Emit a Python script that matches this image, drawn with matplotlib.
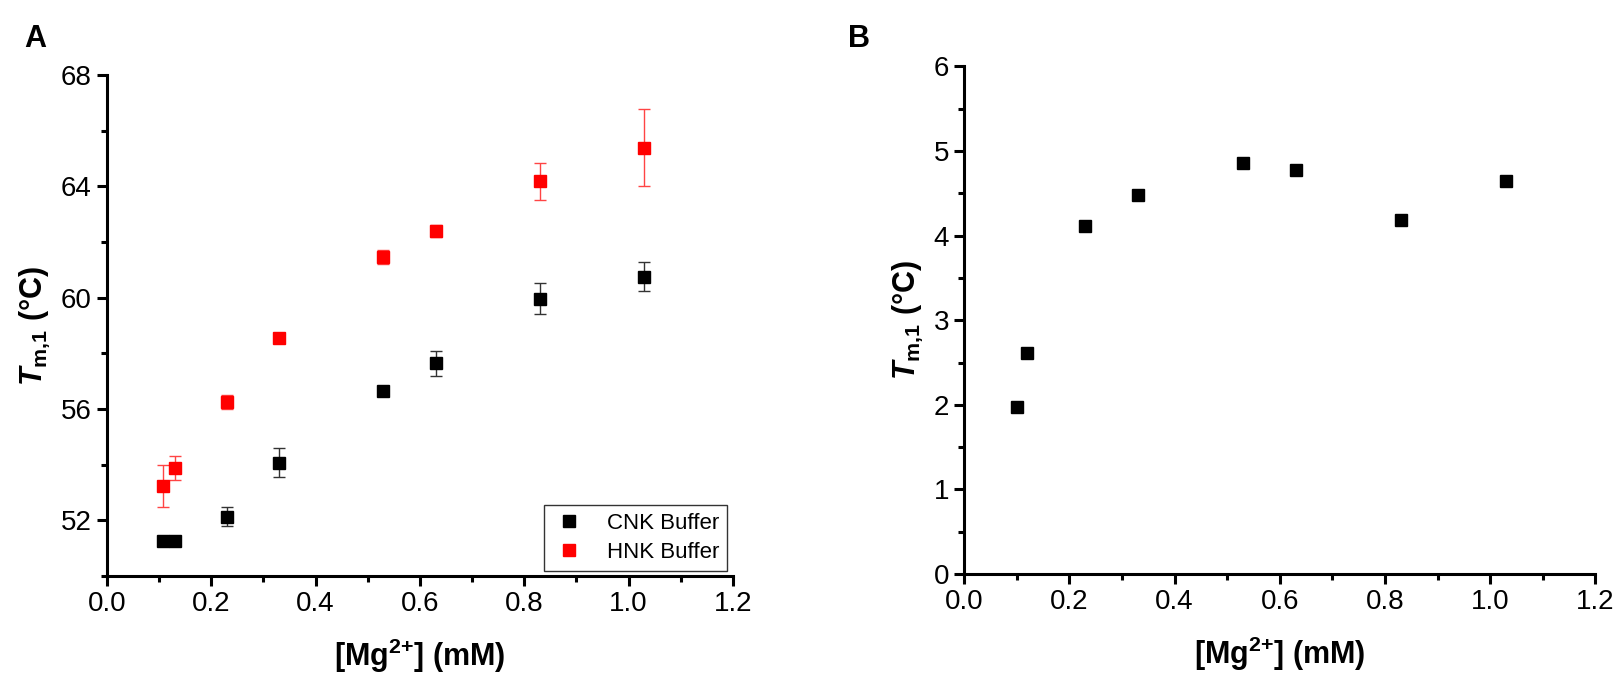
import matplotlib
matplotlib.use('Agg')
import matplotlib.pyplot as plt
from matplotlib.ticker import MultipleLocator

plt.rcParams['font.family'] = ['Liberation Sans', 'DejaVu Sans']
plt.rcParams['mathtext.fontset'] = 'custom'
plt.rcParams['mathtext.rm'] = 'Liberation Sans'
plt.rcParams['mathtext.bf'] = 'Liberation Sans:bold'
plt.rcParams['mathtext.it'] = 'Liberation Sans:italic'
plt.rcParams['mathtext.bfit'] = 'Liberation Sans:bold:italic'

# Panel A data
mg_a = [0.107, 0.13, 0.23, 0.33, 0.53, 0.63, 0.83, 1.03]
cnk_tm = [51.26, 51.27, 52.14, 54.08, 56.64, 57.64, 59.97, 60.76]
cnk_err = [0.0, 0.0, 0.35, 0.51, 0.0, 0.44, 0.55, 0.53]
hnk_tm = [53.24, 53.88, 56.26, 58.56, 61.47, 62.40, 64.19, 65.40]
hnk_err = [0.75, 0.42, 0.26, 0.08, 0.25, 0.22, 0.66, 1.40]

# Panel B data
mg_b = [0.10, 0.12, 0.23, 0.33, 0.53, 0.63, 0.83, 1.03]
delta_tm = [1.98, 2.61, 4.11, 4.48, 4.86, 4.77, 4.18, 4.64]

ylabel = r'$\mathbfit{T}_{\mathbf{m{,}1}}$ (°C)'
xlabel = r'[Mg$^{\mathbf{2\!+}}\!\mathbf{]}$ (mM)'

fig = plt.figure(figsize=(16.18, 6.77), dpi=100)
ax1 = fig.add_axes([0.066, 0.149, 0.387, 0.740])
ax2 = fig.add_axes([0.596, 0.152, 0.390, 0.750])


def style(ax):
    for s in ['top', 'right']:
        ax.spines[s].set_visible(False)
    for s in ['left', 'bottom']:
        ax.spines[s].set_linewidth(2.2)
    ax.tick_params(which='major', direction='out', length=7, width=2.2, labelsize=20, pad=4)
    ax.tick_params(which='minor', direction='out', length=4, width=2.2)
    ax.set_xlim(0, 1.2)
    ax.xaxis.set_major_locator(MultipleLocator(0.2))
    ax.xaxis.set_minor_locator(MultipleLocator(0.1))
    ax.xaxis.set_major_formatter(plt.FormatStrFormatter('%.1f'))
    ax.set_xlabel(xlabel, fontsize=22, fontweight='bold', labelpad=14)
    ax.set_ylabel(ylabel, fontsize=22, fontweight='bold', labelpad=6)


ax1.errorbar(mg_a, cnk_tm, yerr=cnk_err, fmt='s', color='black', ms=9,
             ecolor='#333333', elinewidth=1, capsize=4, capthick=1, label='CNK Buffer')
ax1.errorbar(mg_a, hnk_tm, yerr=hnk_err, fmt='s', color='red', ms=9,
             ecolor='#ff4444', elinewidth=1, capsize=4, capthick=1, label='HNK Buffer')
style(ax1)
ax1.set_ylim(50, 68)
ax1.yaxis.set_major_locator(MultipleLocator(4))
ax1.yaxis.set_minor_locator(MultipleLocator(2))
ax1.set_yticks([52, 56, 60, 64, 68])
handles, labels = ax1.get_legend_handles_labels()
handles = [h[0] for h in handles]
leg = ax1.legend(handles, labels, loc='lower right', fontsize=16, frameon=True,
                 fancybox=False, edgecolor='black', borderaxespad=0.25,
                 handletextpad=0.9, borderpad=0.35, labelspacing=0.35,
                 handlelength=1.6)
leg.get_frame().set_linewidth(1)

ax2.plot(mg_b, delta_tm, 's', color='black', ms=9)
style(ax2)
ax2.set_ylim(0, 6)
ax2.yaxis.set_major_locator(MultipleLocator(1))
ax2.yaxis.set_minor_locator(MultipleLocator(0.5))

fig.text(0.015, 0.93, 'A', fontsize=22, fontweight='bold')
fig.text(0.524, 0.93, 'B', fontsize=22, fontweight='bold')

fig.savefig('out.png', dpi=100)
